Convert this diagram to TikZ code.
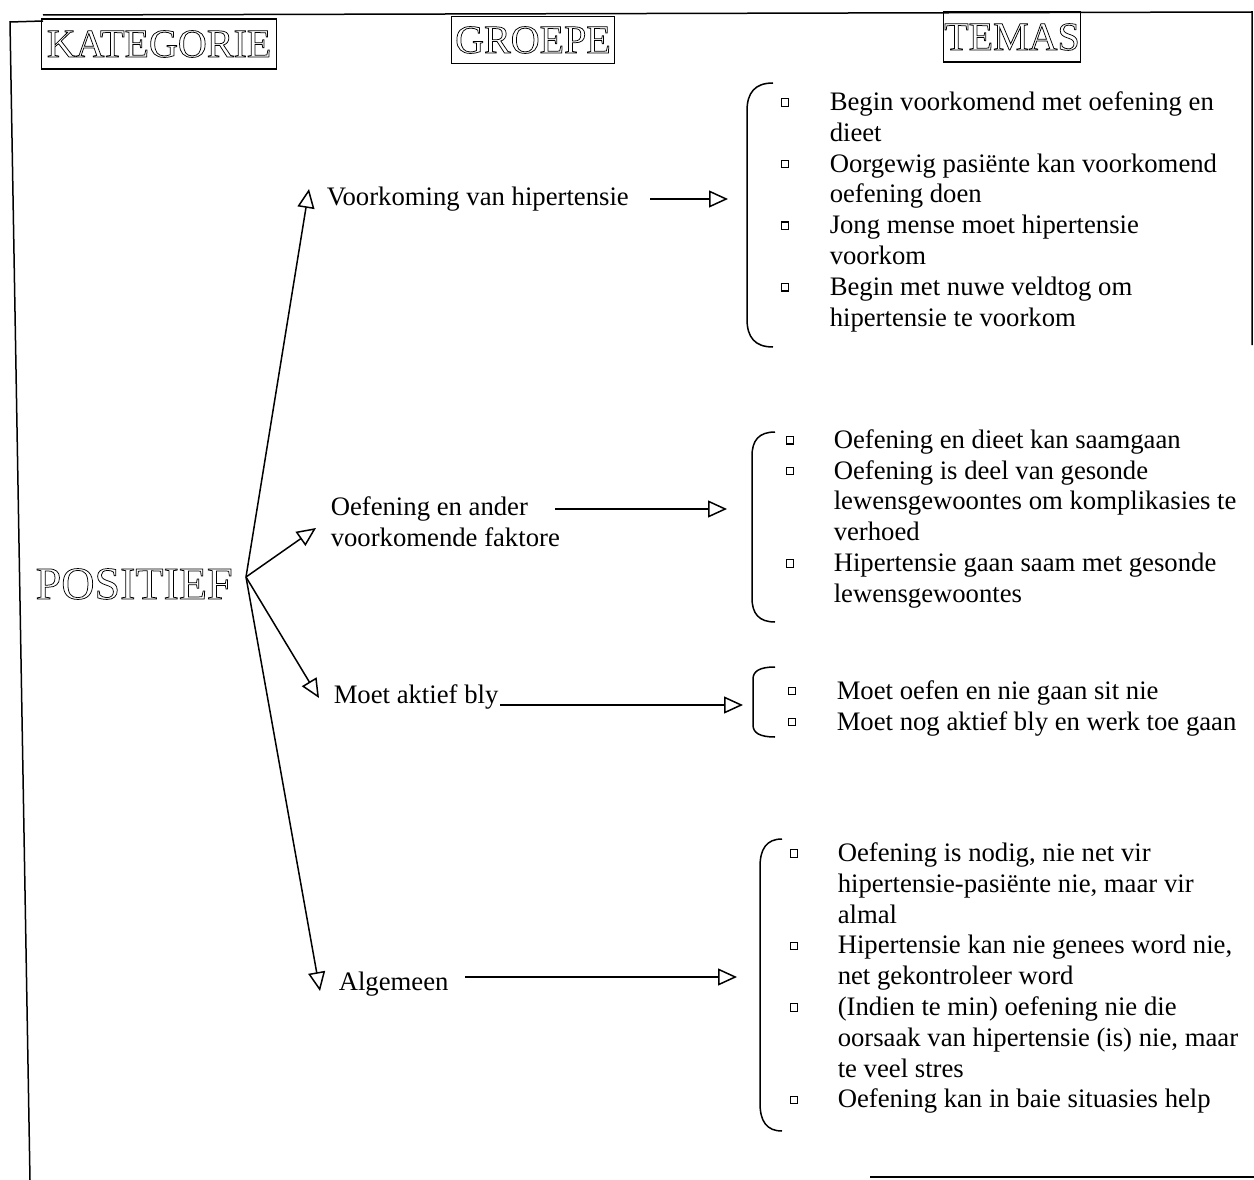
\documentclass[tikz,border=0pt]{standalone}
\usepackage{fontspec}
\setmainfont{Liberation Serif}
\usetikzlibrary{arrows.meta}
% hollow (stroked) capitals for the headings
\newcommand\hollow[1]{\special{pdf:literal direct 1 Tr 0.75 w}#1\special{pdf:literal direct 0 Tr}}
% left bracket: x of the vertical stroke, top y, bottom y, x of the ends, corner size
\newcommand\brkt[5]{\draw (#4,#2) .. controls ({#1+0.3*(#4-#1)},#2) and (#1,{#2+0.35*#5}) .. (#1,{#2+#5}) -- (#1,{#3-#5}) .. controls (#1,{#3-0.35*#5}) and ({#1+0.3*(#4-#1)},#3) .. (#4,#3);}
\begin{document}
\begin{tikzpicture}[x=1pt,y=-1pt,
  line width=1.5pt,
  arr/.style={-{Triangle[open,length=19pt,width=17pt]}},
  hdr/.style={draw,line width=1.5pt,inner sep=0pt,font=\fontsize{40}{40}\selectfont},
  txt/.style={anchor=base west,inner sep=0pt,font=\fontsize{26.7}{30}\selectfont},
  bul/.style={draw,rectangle,minimum size=7.5pt,inner sep=0pt,line width=1.2pt}]
\useasboundingbox (0,0) rectangle (1254,1180);

% page frame
\draw (43,21) -- (10,22) -- (30,1180);
\draw (43,15) -- (1252,12) -- (1252,345);
\draw (870,1177) -- (1254,1177);

% column headings
\node[hdr,minimum width=235pt,minimum height=50pt] (kat) at (159,44) {\hollow{KATEGORIE}};
\node[hdr,minimum width=163pt,minimum height=47pt] (grp) at (533,40) {\hollow{GROEPE}};
\node[hdr,minimum width=137pt,minimum height=50pt] (tem) at (1012,37) {\hollow{TEMAS}};

% category
\node[anchor=base west,inner sep=0pt,font=\fontsize{46}{46}\selectfont] (pos) at (35,599) {\hollow{POSITIEF}};
\coordinate (hub) at (246,577);

% groups
\node[txt] (g1) at (326,206) {Voorkoming van hipertensie};
\node[txt] (g2a) at (330,515) {Oefening en ander};
\node[txt] (g2b) at (330,546) {voorkomende faktore};
\node[txt] (g3) at (333,703) {Moet aktief bly};
\node[txt] (g4) at (338,990) {Algemeen};

% arrows from the category to the groups
\coordinate (d1) at (309,189);
\coordinate (d2) at (316,528);
\coordinate (d3) at (319,698);
\coordinate (d4) at (320,991);
\draw[arr] (hub) -- (d1);
\draw[arr] (hub) -- (d2);
\draw[arr] (hub) -- (d3);
\draw[arr] (hub) -- (d4);

% arrows from the groups to the themes
\coordinate (h1s) at (650,199); \coordinate (h1e) at (728,199);
\coordinate (h2s) at (555,509); \coordinate (h2e) at (727,509);
\coordinate (h3s) at (500,705); \coordinate (h3e) at (743,705);
\coordinate (h4s) at (465,977); \coordinate (h4e) at (737,977);
\draw[arr] (h1s) -- (h1e);
\draw[arr] (h2s) -- (h2e);
\draw[arr] (h3s) -- (h3e);
\draw[arr] (h4s) -- (h4e);

% brackets around the theme lists
\brkt{747}{83}{347}{773}{28}
\brkt{752}{432}{622}{775}{24}
\brkt{753}{667}{737}{775}{12}
\brkt{760}{839}{1131}{782}{28}

% themes: voorkoming
\node[bul] (b1a) at (785,102.5) {};
\node[bul] (b1b) at (785,164.1) {};
\node[bul] (b1c) at (785,225.7) {};
\node[bul] (b1d) at (785,287.3) {};
\node[txt] (t1a) at (829,110.5) {Begin voorkomend met oefening en};
\node[txt] (t1b) at (829,141.3) {dieet};
\node[txt] (t1c) at (829,172.1) {Oorgewig pasiënte kan voorkomend};
\node[txt] (t1d) at (829,202.9) {oefening doen};
\node[txt] (t1e) at (829,233.7) {Jong mense moet hipertensie};
\node[txt] (t1f) at (829,264.5) {voorkom};
\node[txt] (t1g) at (829,295.3) {Begin met nuwe veldtog om};
\node[txt] (t1h) at (829,326.1) {hipertensie te voorkom};

% themes: oefening en ander faktore
\node[bul] (b2a) at (790,440.3) {};
\node[bul] (b2b) at (790,471.1) {};
\node[bul] (b2c) at (790,563.5) {};
\node[txt] (t2a) at (833,448.3) {Oefening en dieet kan saamgaan};
\node[txt] (t2b) at (833,479.1) {Oefening is deel van gesonde};
\node[txt] (t2c) at (833,509.9) {lewensgewoontes om komplikasies te};
\node[txt] (t2d) at (833,540.7) {verhoed};
\node[txt] (t2e) at (833,571.5) {Hipertensie gaan saam met gesonde};
\node[txt] (t2f) at (833,602.3) {lewensgewoontes};

% themes: aktief bly
\node[bul] (b3a) at (792,691) {};
\node[bul] (b3b) at (792,722) {};
\node[txt] (t3a) at (836,699) {Moet oefen en nie gaan sit nie};
\node[txt] (t3b) at (836,730) {Moet nog aktief bly en werk toe gaan};

% themes: algemeen
\node[bul] (b4a) at (794,853.5) {};
\node[bul] (b4b) at (794,945.9) {};
\node[bul] (b4c) at (794,1007.5) {};
\node[bul] (b4d) at (794,1099.9) {};
\node[txt] (t4a) at (837,861.5) {Oefening is nodig, nie net vir};
\node[txt] (t4b) at (837,892.3) {hipertensie-pasiënte nie, maar vir};
\node[txt] (t4c) at (837,923.1) {almal};
\node[txt] (t4d) at (837,953.9) {Hipertensie kan nie genees word nie,};
\node[txt] (t4e) at (837,984.7) {net gekontroleer word};
\node[txt] (t4f) at (837,1015.5) {(Indien te min) oefening nie die};
\node[txt] (t4g) at (837,1046.3) {oorsaak van hipertensie (is) nie, maar};
\node[txt] (t4h) at (837,1077.1) {te veel stres};
\node[txt] (t4i) at (837,1107.9) {Oefening kan in baie situasies help};
\end{tikzpicture}
\end{document}
